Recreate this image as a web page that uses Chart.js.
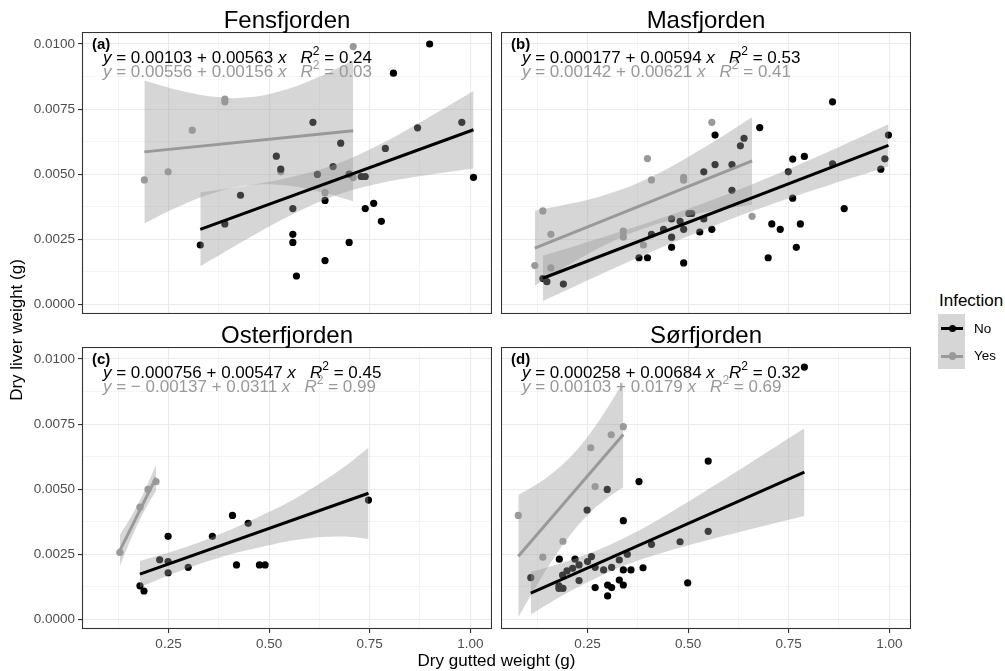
<!DOCTYPE html>
<html>
<head>
<meta charset="utf-8">
<title>Dry liver weight vs dry gutted weight</title>
<script src="https://cdn.jsdelivr.net/npm/chart.js@4.4.0/dist/chart.umd.min.js"></script>
<style>
  body { margin: 0; background: #fff; }
  #figure { position: relative; width: 1005px; height: 671px; font-family: "Liberation Sans", Arial, sans-serif; color: #000; overflow: hidden; }
  #figure canvas { position: absolute; }
  .txt { position: absolute; white-space: nowrap; }
  .sup { position: relative; top: -8px; font-size: 12px; font-style: normal; }
  .key { position: absolute; }
  #ytitle { position: absolute; left: -93px; top: 321px; width: 220px; height: 18px; line-height: 18px; font-size: 17px; text-align: center; white-space: nowrap; transform: rotate(-90deg); transform-origin: 110px 9px; }
</style>
</head>
<body>
<div id="figure"></div>
<script>
// dry gutted weight (g) and dry liver weight (g) per fjord and infection status
const fensNoX = [0.899, 0.809, 0.609, 0.979, 0.869, 0.678, 0.789, 0.518, 0.529, 0.620, 0.659, 0.699, 0.729, 0.739, 1.008, 0.429, 0.639, 0.559, 0.760, 0.739, 0.779, 0.390, 0.329, 0.559, 0.559, 0.699, 0.639, 0.568];
const fensNoY = [0.0100, 0.00888, 0.00699, 0.00699, 0.00678, 0.00619, 0.00599, 0.00569, 0.00519, 0.00499, 0.00529, 0.00500, 0.00491, 0.00491, 0.00488, 0.00419, 0.00399, 0.00368, 0.00388, 0.00368, 0.00319, 0.00309, 0.00228, 0.00269, 0.00238, 0.00238, 0.00168, 0.00109];
const fensYesX = [0.709, 0.390, 0.390, 0.309, 0.529, 0.249, 0.190, 0.639, 0.709];
const fensYesY = [0.00990, 0.00788, 0.00778, 0.00669, 0.00509, 0.00509, 0.00478, 0.00429, 0.00487];

const masNoX = [0.859, 0.678, 0.567, 0.998, 0.639, 0.630, 0.760, 0.789, 0.567, 0.609, 0.859, 0.989, 0.979, 0.749, 0.539, 0.609, 0.760, 0.888, 0.502, 0.509, 0.539, 0.459, 0.480, 0.708, 0.779, 0.729, 0.489, 0.559, 0.439, 0.529, 0.409, 0.459, 0.459, 0.769, 0.378, 0.399, 0.699, 0.489, 0.139, 0.149, 0.190];
const masNoY = [0.00778, 0.00679, 0.00650, 0.00650, 0.00638, 0.00609, 0.00558, 0.00568, 0.00537, 0.00537, 0.00540, 0.00559, 0.00519, 0.00509, 0.00509, 0.00438, 0.00408, 0.00368, 0.00349, 0.00349, 0.00328, 0.00328, 0.00319, 0.00309, 0.00309, 0.00288, 0.00288, 0.00288, 0.00288, 0.00278, 0.00269, 0.00258, 0.00219, 0.00219, 0.00179, 0.00179, 0.00179, 0.00159, 0.00099, 0.00087, 0.00078];
const masYesX = [0.559, 0.399, 0.409, 0.489, 0.489, 0.139, 0.159, 0.339, 0.339, 0.389, 0.659, 0.119, 0.159];
const masYesY = [0.00699, 0.00560, 0.00478, 0.00488, 0.00477, 0.00359, 0.00269, 0.00281, 0.00259, 0.00228, 0.00338, 0.00149, 0.00140];

const ostNoX = [0.747, 0.409, 0.448, 0.249, 0.359, 0.228, 0.249, 0.419, 0.476, 0.490, 0.299, 0.249, 0.179, 0.189];
const ostNoY = [0.00458, 0.00399, 0.00369, 0.00319, 0.00319, 0.00229, 0.00222, 0.00209, 0.00209, 0.00209, 0.00200, 0.00179, 0.00129, 0.00109];
const ostYesX = [0.129, 0.179, 0.199, 0.219];
const ostYesY = [0.00257, 0.00431, 0.00499, 0.00529];

const sorNoX = [0.789, 0.550, 0.378, 0.299, 0.249, 0.339, 0.550, 0.480, 0.409, 0.349, 0.260, 0.180, 0.219, 0.329, 0.250, 0.229, 0.213, 0.269, 0.310, 0.388, 0.199, 0.290, 0.339, 0.358, 0.188, 0.109, 0.229, 0.329, 0.499, 0.300, 0.339, 0.179, 0.179, 0.189, 0.269, 0.310, 0.300];
const sorNoY = [0.00969, 0.00608, 0.00529, 0.00499, 0.00420, 0.00379, 0.00338, 0.00298, 0.00288, 0.00250, 0.00241, 0.00231, 0.00231, 0.00228, 0.00222, 0.00209, 0.00196, 0.00200, 0.00200, 0.00198, 0.00186, 0.00190, 0.00190, 0.00190, 0.00170, 0.00160, 0.00149, 0.00151, 0.00140, 0.00132, 0.00132, 0.00129, 0.00119, 0.00119, 0.00122, 0.00122, 0.00090];
const sorYesX = [0.339, 0.309, 0.258, 0.269, 0.078, 0.189, 0.139];
const sorYesY = [0.00740, 0.00709, 0.00659, 0.00510, 0.00399, 0.00300, 0.00239];

// fitted lines (intercept, slope, R²) in panel order a-d
const noIntercept = [0.00103, 0.000177, 0.000756, 0.000258];
const noSlope = [0.00563, 0.00594, 0.00547, 0.00684];
const noR2 = [0.24, 0.53, 0.45, 0.32];
const yesIntercept = [0.00556, 0.00142, -0.00137, 0.00103];
const yesSlope = [0.00156, 0.00621, 0.0311, 0.0179];
const yesR2 = [0.03, 0.41, 0.99, 0.69];

// 95% confidence bands around the fits
const fensNoBandX = [0.329, 0.44, 0.55, 0.66, 0.77, 0.89, 1.008];
const fensNoBandLo = [0.00146, 0.00246, 0.00339, 0.00415, 0.00463, 0.00496, 0.00522];
const fensNoBandHi = [0.00431, 0.00455, 0.00487, 0.00535, 0.00610, 0.00712, 0.00819];
const fensYesBandX = [0.19, 0.277, 0.363, 0.45, 0.536, 0.622, 0.709];
const fensYesBandLo = [0.00311, 0.00377, 0.00428, 0.00457, 0.00457, 0.00434, 0.00396];
const fensYesBandHi = [0.00860, 0.00822, 0.00797, 0.00795, 0.00822, 0.00872, 0.00937];

const masNoBandX = [0.139, 0.282, 0.425, 0.568, 0.711, 0.855, 0.998];
const masNoBandLo = [0.00013, 0.00115, 0.00213, 0.00304, 0.00386, 0.00460, 0.00529];
const masNoBandHi = [0.00187, 0.00255, 0.00327, 0.00406, 0.00494, 0.00591, 0.00692];
const masYesBandX = [0.119, 0.209, 0.299, 0.389, 0.479, 0.569, 0.659];
const masYesBandLo = [0.00072, 0.00157, 0.00232, 0.00291, 0.00332, 0.00361, 0.00383];
const masYesBandHi = [0.00360, 0.00387, 0.00423, 0.00476, 0.00547, 0.00630, 0.00719];

const ostNoBandX = [0.179, 0.28, 0.38, 0.48, 0.58, 0.68, 0.747];
const ostNoBandLo = [0.00124, 0.00187, 0.00239, 0.00278, 0.00308, 0.00318, 0.00309];
const ostNoBandHi = [0.00224, 0.00271, 0.00329, 0.00398, 0.00478, 0.00578, 0.00659];
const ostYesBandX = [0.129, 0.159, 0.189, 0.219];
const ostYesBandLo = [0.00204, 0.00316, 0.00414, 0.00494];
const ostYesBandHi = [0.00324, 0.00400, 0.00488, 0.00594];

const sorNoBandX = [0.109, 0.222, 0.336, 0.449, 0.562, 0.676, 0.789];
const sorNoBandLo = [0.00019, 0.00120, 0.00203, 0.00262, 0.00310, 0.00354, 0.00397];
const sorNoBandHi = [0.00182, 0.00235, 0.00309, 0.00404, 0.00511, 0.00622, 0.00734];
const sorYesBandX = [0.078, 0.122, 0.165, 0.209, 0.252, 0.296, 0.339];
const sorYesBandLo = [0.00008, 0.00126, 0.00233, 0.00328, 0.00403, 0.00462, 0.00507];
const sorYesBandHi = [0.00478, 0.00517, 0.00564, 0.00626, 0.00705, 0.00804, 0.00913];

const fjords = ["Fensfjorden", "Masfjorden", "Osterfjorden", "Sørfjorden"];
const tags = ["(a)", "(b)", "(c)", "(d)"];
const groups = ["No", "Yes"];

const xTicks = [0.25, 0.5, 0.75, 1.0];
const xMinorTicks = [0.125, 0.375, 0.625, 0.875];
const yTicks = [0, 0.0025, 0.005, 0.0075, 0.01];
const yMinorTicks = [0.00125, 0.00375, 0.00625, 0.00875];

const panels = [
  { noX: fensNoX, noY: fensNoY, yesX: fensYesX, yesY: fensYesY,
    noBand: [fensNoBandX, fensNoBandLo, fensNoBandHi], yesBand: [fensYesBandX, fensYesBandLo, fensYesBandHi] },
  { noX: masNoX, noY: masNoY, yesX: masYesX, yesY: masYesY,
    noBand: [masNoBandX, masNoBandLo, masNoBandHi], yesBand: [masYesBandX, masYesBandLo, masYesBandHi] },
  { noX: ostNoX, noY: ostNoY, yesX: ostYesX, yesY: ostYesY,
    noBand: [ostNoBandX, ostNoBandLo, ostNoBandHi], yesBand: [ostYesBandX, ostYesBandLo, ostYesBandHi] },
  { noX: sorNoX, noY: sorNoY, yesX: sorYesX, yesY: sorYesY,
    noBand: [sorNoBandX, sorNoBandLo, sorNoBandHi], yesBand: [sorYesBandX, sorYesBandLo, sorYesBandHi] }
];

const NO_COLOR = "#000000";
const YES_COLOR = "#999999";
const BAND_FILL = "rgba(153,153,153,0.4)";

// facet layout
const panelLeft = [82, 501];
const panelTop = [32, 347];
const panelW = 410, panelH = 282;
const yAxisW = 82, xAxisH = 26;
const xMin = 0.035, xMax = 1.054;
const yMin = -0.00037, yMax = 0.01046;

const fig = document.getElementById("figure");
const tickFont = { family: "Liberation Sans", size: 13.5 };
const isOn = (list, v) => list.some(t => Math.abs(t - v) < 1e-9);
const pts = (xs, ys) => xs.map((x, k) => ({ x, y: ys[k] }));

function fitLine(xs, a, b) {
  const x0 = Math.min(...xs), x1 = Math.max(...xs);
  return [{ x: x0, y: a + b * x0 }, { x: x1, y: a + b * x1 }];
}

// ggplot-style panel frame drawn on top of everything
const panelBorder = {
  id: "panelBorder",
  afterDraw(chart) {
    const { ctx, chartArea: a } = chart;
    ctx.save();
    ctx.strokeStyle = "#333333";
    ctx.lineWidth = 1.1;
    ctx.strokeRect(a.left + 0.5, a.top + 0.5, a.right - a.left - 1, a.bottom - a.top - 1);
    ctx.restore();
  }
};

function axisOptions(major, minor, min, max, show, size, digits, horizontal) {
  return {
    type: "linear",
    min, max,
    bounds: "data",
    afterBuildTicks: s => {
      s.ticks = major.concat(minor).sort((a, b) => a - b).map(v => ({ value: v }));
    },
    afterFit: s => {
      if (horizontal) s.height = show ? size : 0;
      else s.width = show ? size : 0;
      // keep the plot area fixed: no room reserved for overhanging labels
      s.paddingTop = s.paddingBottom = s.paddingLeft = s.paddingRight = 0;
    },
    ticks: {
      display: show,
      autoSkip: false,
      maxRotation: 0,
      padding: 3,
      color: "#4D4D4D",
      font: tickFont,
      callback: v => isOn(major, v) ? v.toFixed(digits) : ""
    },
    grid: {
      color: "#EBEBEB",
      lineWidth: c => (c.tick && isOn(major, c.tick.value)) ? 1.1 : 0.55,
      drawTicks: show,
      tickLength: 4,
      tickWidth: 1.1,
      tickColor: c => (c.tick && isOn(major, c.tick.value)) ? "#333333" : "rgba(0,0,0,0)"
    },
    border: { display: false }
  };
}

function bandSets(band) {
  const [xs, lo, hi] = band;
  const common = { type: "line", pointRadius: 0, borderWidth: 1, borderColor: "rgba(0,0,0,0)", tension: 0.4, order: 2 };
  return [
    { ...common, data: pts(xs, hi), fill: false },
    { ...common, data: pts(xs, lo), fill: "-1", backgroundColor: BAND_FILL }
  ];
}

function makePanel(i) {
  const col = i % 2, row = Math.floor(i / 2);
  const showY = col === 0, showX = row === 1;
  const p = panels[i];
  const w = panelW + (showY ? yAxisW : 0);
  const h = panelH + (showX ? xAxisH : 0);

  const canvas = document.createElement("canvas");
  canvas.width = w;
  canvas.height = h;
  canvas.style.width = w + "px";
  canvas.style.height = h + "px";
  canvas.style.left = (panelLeft[col] - (showY ? yAxisW : 0)) + "px";
  canvas.style.top = panelTop[row] + "px";
  fig.appendChild(canvas);

  const pointStyle = { pointRadius: 3.6, pointHoverRadius: 3.6, borderWidth: 0, pointBorderWidth: 0 };

  new Chart(canvas, {
    type: "scatter",
    data: {
      datasets: [
        { ...pointStyle, data: pts(p.noX, p.noY), backgroundColor: NO_COLOR, pointBackgroundColor: NO_COLOR, order: 3 },
        { ...pointStyle, data: pts(p.yesX, p.yesY), backgroundColor: YES_COLOR, pointBackgroundColor: YES_COLOR, order: 4 },
        ...bandSets(p.noBand),
        ...bandSets(p.yesBand),
        { type: "line", data: fitLine(p.noX, noIntercept[i], noSlope[i]), borderColor: NO_COLOR, borderWidth: 3, pointRadius: 0, fill: false, order: 1 },
        { type: "line", data: fitLine(p.yesX, yesIntercept[i], yesSlope[i]), borderColor: YES_COLOR, borderWidth: 3, pointRadius: 0, fill: false, order: 1 }
      ]
    },
    options: {
      responsive: false,
      animation: false,
      events: [],
      devicePixelRatio: 1,
      layout: { padding: 0, autoPadding: false },
      plugins: { legend: { display: false }, tooltip: { enabled: false } },
      scales: {
        x: axisOptions(xTicks, xMinorTicks, xMin, xMax, showX, xAxisH, 2, true),
        y: axisOptions(yTicks, yMinorTicks, yMin, yMax, showY, yAxisW, 4, false)
      }
    },
    plugins: [panelBorder]
  });

  // strip title, panel tag and regression equations
  addText(fjords[i], panelLeft[col], panelTop[row] - 4, 24, { width: panelW + "px", textAlign: "center" });
  addText(tags[i], panelLeft[col] + 10, panelTop[row] + 17, 15, { fontWeight: "bold" });
  addText(equation(noIntercept[i], noSlope[i], noR2[i]), panelLeft[col] + 21, panelTop[row] + 31.5, 17, { color: NO_COLOR });
  addText(equation(yesIntercept[i], yesSlope[i], yesR2[i]), panelLeft[col] + 21, panelTop[row] + 45, 17, { color: YES_COLOR });
}

function coef(v) {
  return v.toPrecision(3).replace("-", "\u2212 ");
}

function equation(a, b, r2) {
  return `<i>y</i> = ${coef(a)} + ${coef(b)} <i>x</i>&nbsp;&nbsp; <i>R</i><span class="sup">2</span> = ${r2.toFixed(2)}`;
}

// places a text line by its baseline (Liberation Sans metrics)
function addText(html, x, baseline, size, extra = {}) {
  const d = document.createElement("div");
  d.className = "txt";
  d.innerHTML = html;
  d.style.fontSize = size + "px";
  d.style.lineHeight = size + "px";
  d.style.left = x + "px";
  d.style.top = (baseline - size * 0.8465) + "px";
  Object.assign(d.style, extra);
  fig.appendChild(d);
  return d;
}

for (let i = 0; i < 4; i++) makePanel(i);

// axis titles
addText("Dry gutted weight (g)", panelLeft[0], 666, 17, { width: (panelLeft[1] + panelW - panelLeft[0]) + "px", textAlign: "center" });
const yTitle = document.createElement("div");
yTitle.id = "ytitle";
yTitle.textContent = "Dry liver weight (g)";
fig.appendChild(yTitle);

// legend
addText("Infection", 939, 306, 17);
const keyBox = document.createElement("div");
keyBox.className = "key";
Object.assign(keyBox.style, { left: "938px", top: "314px", width: "27px", height: "55px", background: "#D6D6D6" });
fig.appendChild(keyBox);
[[NO_COLOR, 328.5], [YES_COLOR, 356]].forEach(([color, cy], k) => {
  const line = document.createElement("div");
  line.className = "key";
  Object.assign(line.style, { left: "941px", top: (cy - 1.5) + "px", width: "22px", height: "3px", background: color });
  fig.appendChild(line);
  const dot = document.createElement("div");
  dot.className = "key";
  Object.assign(dot.style, { left: "948.5px", top: (cy - 3.6) + "px", width: "7.2px", height: "7.2px", borderRadius: "50%", background: color });
  fig.appendChild(dot);
  addText(groups[k], 974, cy + 4.8, 13.5);
});
</script>
</body>
</html>
